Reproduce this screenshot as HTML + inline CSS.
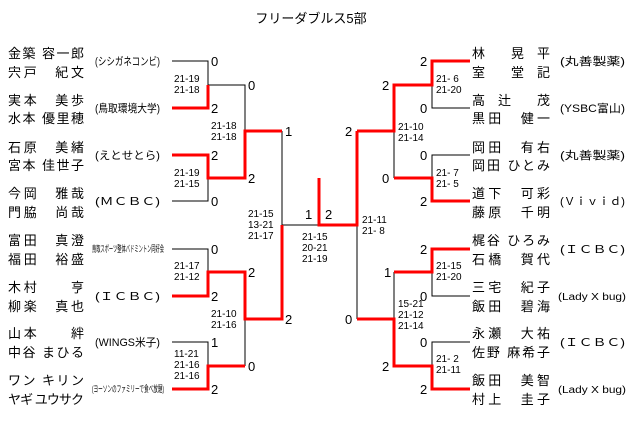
<!DOCTYPE html>
<html><head><meta charset="utf-8"><style>
html,body{margin:0;padding:0;background:#fff;}
svg{display:block;}
text{font-family:"Liberation Sans","Noto Sans CJK JP",sans-serif;fill:#000;}
.n{font-size:13px;}
.c{font-size:11px;fill:#333;font-family:"Liberation Serif","Noto Serif CJK SC",serif;}
.s{font-size:13px;}
.g{font-size:10px;}
</style></head><body>
<svg width="640" height="437" viewBox="0 0 640 437" xmlns="http://www.w3.org/2000/svg">
<text x="311" y="23" text-anchor="middle" style="font-size:13px">フリーダブルス5部</text>

<!-- black lines -->
<g stroke="#000" stroke-width="1" fill="none">
<path d="M172 61H208V85"/>
<path d="M172 201H208V178"/>
<path d="M208 85H245V131"/>
<path d="M172 249H208V272"/>
<path d="M172 342H208V366"/>
<path d="M245 319V366"/>
<path d="M282 131V225H319"/>
<path d="M357 225V319"/>
<path d="M470 108H432V85"/>
<path d="M470 155H432V178"/>
<path d="M394 85V131"/>
<path d="M394 131V178"/>
<path d="M470 296H432V272"/>
<path d="M470 342H432V366"/>
<path d="M394 272V319"/>
</g>
<!-- red lines -->
<g stroke="#f00" stroke-width="3" fill="none" stroke-linejoin="miter">
<path d="M172 108H208V85"/>
<path d="M172 155H208V178H245V131H282"/>
<path d="M172 296H208V272H245V319H282V225"/>
<path d="M172 389H208V366H245"/>
<path d="M319 178V225H357V131"/>
<path d="M470 61H432V85H394V131H357"/>
<path d="M470 201H432V178H394"/>
<path d="M470 249H432V272H394"/>
<path d="M470 389H432V366H394V319H357"/>
</g>

<!-- left names -->
<g class="n">
<text x="8" y="58" textLength="76" lengthAdjust="spacing">金築 容一郎</text>
<text x="8" y="77" textLength="76" lengthAdjust="spacing">宍戸　紀文</text>
<text x="8" y="105" textLength="76" lengthAdjust="spacing">実本　美歩</text>
<text x="8" y="123" textLength="76" lengthAdjust="spacing">水本 優里穂</text>
<text x="8" y="152" textLength="76" lengthAdjust="spacing">石原　美緒</text>
<text x="8" y="170" textLength="76" lengthAdjust="spacing">宮本 佳世子</text>
<text x="8" y="198" textLength="76" lengthAdjust="spacing">今岡　雅哉</text>
<text x="8" y="217" textLength="76" lengthAdjust="spacing">門脇　尚哉</text>
<text x="8" y="245" textLength="76" lengthAdjust="spacing">富田　真澄</text>
<text x="8" y="264" textLength="76" lengthAdjust="spacing">福田　裕盛</text>
<text x="8" y="292" textLength="76" lengthAdjust="spacing">木村　　亨</text>
<text x="8" y="311" textLength="76" lengthAdjust="spacing">柳楽　真也</text>
<text x="8" y="338" textLength="76" lengthAdjust="spacing">山本　　絆</text>
<text x="8" y="357" textLength="76" lengthAdjust="spacing">中谷 まひる</text>
<text x="8" y="385" textLength="76" lengthAdjust="spacing">ワン キリン</text>
<text x="8" y="404" textLength="76" lengthAdjust="spacing">ヤギ ユウサク</text>
</g>
<g class="c">
<text x="95" y="65" textLength="65" lengthAdjust="spacingAndGlyphs">(シシガネコンビ)</text>
<text x="95" y="112" textLength="65" lengthAdjust="spacingAndGlyphs">(鳥取環境大学)</text>
<text x="95" y="159" textLength="65" lengthAdjust="spacingAndGlyphs">(えとせとら)</text>
<text x="95" y="205" textLength="65" lengthAdjust="spacingAndGlyphs">(ＭＣＢＣ)</text>
<text x="92" y="252" textLength="72" lengthAdjust="spacingAndGlyphs" style="font-size:9px">鳥取スポーツ整体バドミントン同好会</text>
<text x="95" y="300" textLength="65" lengthAdjust="spacingAndGlyphs">(ＩＣＢＣ)</text>
<text x="95" y="346" textLength="65" lengthAdjust="spacingAndGlyphs">(WINGS米子)</text>
<text x="92" y="392" textLength="72" lengthAdjust="spacingAndGlyphs" style="font-size:9px">(ヨーソンのファミリーで食べ放題)</text>
</g>

<!-- right names -->
<g class="n">
<text x="472" y="58" textLength="78" lengthAdjust="spacing">林　　晃　平</text>
<text x="472" y="77" textLength="78" lengthAdjust="spacing">室　　堂　記</text>
<text x="472" y="105" textLength="78" lengthAdjust="spacing">高　辻　　茂</text>
<text x="472" y="123" textLength="78" lengthAdjust="spacing">黒田　健一</text>
<text x="472" y="152" textLength="78" lengthAdjust="spacing">岡田　有右</text>
<text x="472" y="170" textLength="78" lengthAdjust="spacing">岡田 ひとみ</text>
<text x="472" y="198" textLength="78" lengthAdjust="spacing">道下　可彩</text>
<text x="472" y="217" textLength="78" lengthAdjust="spacing">藤原　千明</text>
<text x="472" y="245" textLength="78" lengthAdjust="spacing">梶谷 ひろみ</text>
<text x="472" y="264" textLength="78" lengthAdjust="spacing">石橋　賀代</text>
<text x="472" y="292" textLength="78" lengthAdjust="spacing">三宅　紀子</text>
<text x="472" y="311" textLength="78" lengthAdjust="spacing">飯田　碧海</text>
<text x="472" y="338" textLength="78" lengthAdjust="spacing">永瀬　大祐</text>
<text x="472" y="357" textLength="78" lengthAdjust="spacing">佐野 麻希子</text>
<text x="472" y="385" textLength="78" lengthAdjust="spacing">飯田　美智</text>
<text x="472" y="404" textLength="78" lengthAdjust="spacing">村上　圭子</text>
</g>
<g class="c">
<text x="560" y="65" textLength="65" lengthAdjust="spacingAndGlyphs">(丸善製薬)</text>
<text x="560" y="112" textLength="65" lengthAdjust="spacingAndGlyphs">(YSBC富山)</text>
<text x="560" y="159" textLength="65" lengthAdjust="spacingAndGlyphs">(丸善製薬)</text>
<text x="560" y="205" textLength="65" lengthAdjust="spacingAndGlyphs">(Ｖｉｖｉｄ)</text>
<text x="560" y="253" textLength="65" lengthAdjust="spacingAndGlyphs">(ＩＣＢＣ)</text>
<text x="558" y="300" textLength="68" lengthAdjust="spacingAndGlyphs" style="font-size:10px">(Lady X bug)</text>
<text x="560" y="346" textLength="65" lengthAdjust="spacingAndGlyphs">(ＩＣＢＣ)</text>
<text x="558" y="393" textLength="68" lengthAdjust="spacingAndGlyphs" style="font-size:10px">(Lady X bug)</text>
</g>

<!-- match scores -->
<g class="s">
<text x="211" y="66">0</text><text x="211" y="113">2</text>
<text x="211" y="160">2</text><text x="211" y="206">0</text>
<text x="211" y="254">0</text><text x="211" y="301">2</text>
<text x="211" y="347">1</text><text x="211" y="394">2</text>
<text x="248" y="90">0</text><text x="248" y="183">2</text>
<text x="248" y="277">2</text><text x="248" y="371">0</text>
<text x="285" y="136">1</text><text x="285" y="324">2</text>
<text x="305" y="219">1</text><text x="325" y="219">2</text>
<text x="420" y="66">2</text><text x="420" y="113">0</text>
<text x="420" y="160">0</text><text x="420" y="206">2</text>
<text x="420" y="254">2</text><text x="420" y="301">0</text>
<text x="420" y="347">0</text><text x="420" y="394">2</text>
<text x="382" y="90">2</text><text x="382" y="183">0</text>
<text x="384" y="277">1</text><text x="382" y="371">2</text>
<text x="345" y="136">2</text><text x="345" y="324">0</text>
</g>

<!-- game scores -->
<g class="g">
<text x="174" y="82">21-19</text><text x="174" y="93">21-18</text>
<text x="174" y="176">21-19</text><text x="174" y="187">21-15</text>
<text x="174" y="269">21-17</text><text x="174" y="280">21-12</text>
<text x="174" y="357">11-21</text><text x="174" y="368">21-16</text><text x="174" y="379">21-16</text>
<text x="211" y="129">21-18</text><text x="211" y="140">21-18</text>
<text x="211" y="317">21-10</text><text x="211" y="328">21-16</text>
<text x="248" y="217">21-15</text><text x="248" y="228">13-21</text><text x="248" y="239">21-17</text>
<text x="302" y="240">21-15</text><text x="302" y="251">20-21</text><text x="302" y="262">21-19</text>
<text x="362" y="223">21-11</text><text x="362" y="234">21- 8</text>
<text x="398" y="130">21-10</text><text x="398" y="141">21-14</text>
<text x="398" y="307">15-21</text><text x="398" y="318">21-12</text><text x="398" y="329">21-14</text>
<text x="436" y="82">21- 6</text><text x="436" y="93">21-20</text>
<text x="436" y="176">21- 7</text><text x="436" y="187">21- 5</text>
<text x="436" y="269">21-15</text><text x="436" y="280">21-20</text>
<text x="436" y="362">21- 2</text><text x="436" y="373">21-11</text>
</g>
</svg>
</body></html>
